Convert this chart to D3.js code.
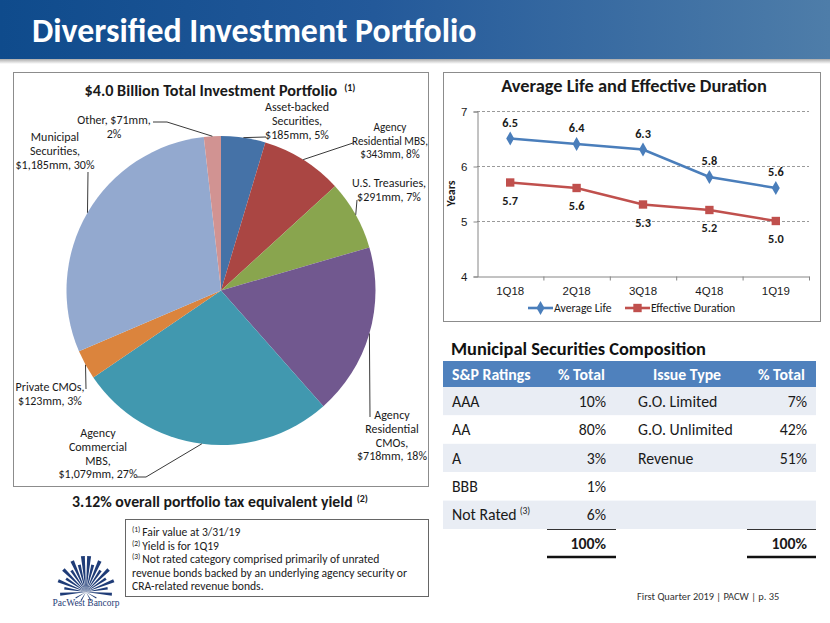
<!DOCTYPE html>
<html><head><meta charset="utf-8">
<script src="https://cdn.jsdelivr.net/npm/d3@7/dist/d3.min.js"></script>
<style>
html,body{margin:0;padding:0;background:#fff;}
svg{display:block;font-family:Carlito,Lato,"Open Sans",sans-serif;}
</style></head>
<body><svg id="c" width="830" height="623"></svg>
<script>
// ---------- DATA ----------
const pieCategories = ["Asset-backed Securities","Agency Residential MBS","U.S. Treasuries","Agency Residential CMOs","Agency Commercial MBS","Private CMOs","Municipal Securities","Other"];
const pieValues = [185, 343, 291, 718, 1079, 123, 1185, 71];
const pieLabelText = [
  ["Asset-backed","Securities,","$185mm, 5%"],
  ["Agency","Residential MBS,","$343mm, 8%"],
  ["U.S. Treasuries,","$291mm, 7%"],
  ["Agency","Residential","CMOs,","$718mm, 18%"],
  ["Agency","Commercial","MBS,","$1,079mm, 27%"],
  ["Private CMOs,","$123mm, 3%"],
  ["Municipal","Securities,","$1,185mm, 30%"],
  ["Other, $71mm,","2%"]
];
const quarters = ["1Q18","2Q18","3Q18","4Q18","1Q19"];
const averageLife = [6.5, 6.4, 6.3, 5.8, 5.6];
const effectiveDuration = [5.7, 5.6, 5.3, 5.2, 5.0];
const yTicks = [4, 5, 6, 7];
const ratings = ["AAA","AA","A","BBB","Not Rated"];
const ratingPct = [10, 80, 3, 1, 6];
const issueTypes = ["G.O. Limited","G.O. Unlimited","Revenue"];
const issuePct = [7, 42, 51];
const footnotes = [["(1)","Fair value at 3/31/19"],["(2)","Yield is for 1Q19"],["(3)","Not rated category comprised primarily of unrated"],["","revenue bonds backed by an underlying agency security or"],["","CRA-related revenue bonds."]];

// ---------- STYLE / LAYOUT ----------
const pieColors = ["#4572A7","#AA4643","#89A54E","#71588F","#4198AF","#DB843D","#93A9CF","#D19392"];
const labelLayout = [
  {x:297, y:107, fs:12,   leader:[[266,137]]},
  {x:390, y:127, fs:11.2, leader:[[353,143]]},
  {x:389, y:183, fs:12,   leader:[[357,200]]},
  {x:392, y:415, fs:12,   leader:[[370,417]]},
  {x:98,  y:433, fs:12,   leader:[[146,477],[137,477]]},
  {x:50,  y:387, fs:12,   leader:[[86,389]]},
  {x:55,  y:137, fs:12,   leader:[[88,172]]},
  {x:114, y:120, fs:12,   leader:[[167,122],[153,122]]}
];
const txt = "#1a1a1a";

const svg = d3.select("#c");
const defs = svg.append("defs");
const hg = defs.append("linearGradient").attr("id","hg").attr("x1","0").attr("x2","1");
hg.append("stop").attr("offset","0").attr("stop-color","#0F4B8C");
hg.append("stop").attr("offset","0.45").attr("stop-color","#23599A");
hg.append("stop").attr("offset","1").attr("stop-color","#4E7DA9");
const sg = defs.append("linearGradient").attr("id","sg").attr("x1","0").attr("x2","0").attr("y1","0").attr("y2","1");
sg.append("stop").attr("offset","0").attr("stop-color","#9a9a9a");
sg.append("stop").attr("offset","1").attr("stop-color","#ffffff");

// header
svg.append("rect").attr("x",0).attr("y",58).attr("width",830).attr("height",6).attr("fill","url(#sg)");
svg.append("rect").attr("x",0).attr("y",0).attr("width",830).attr("height",59).attr("fill","url(#hg)");
svg.append("text").attr("x",32).attr("y",42).attr("fill","#fff").attr("font-weight","bold")
  .attr("font-size",33.8).text("Diversified Investment Portfolio");

// ---------- PIE ----------
svg.append("rect").attr("x",13.5).attr("y",72.5).attr("width",415).attr("height",414)
  .attr("fill","#fff").attr("stroke","#8c8c8c").attr("stroke-width",1);
const pt = svg.append("text").attr("x",220).attr("y",96).attr("text-anchor","middle")
  .attr("font-weight","bold").attr("font-size",16.2).attr("fill",txt);
pt.append("tspan").text("$4.0 Billion Total Investment Portfolio");
pt.append("tspan").attr("dx",7).attr("dy",-5).attr("font-size",10).text("(1)");

const cx = 221, cy = 290.5, R = 154.5;
const pie = d3.pie().sort(null).value(d => d)(pieValues);
const arc = d3.arc().innerRadius(0).outerRadius(R);
const pg = svg.append("g").attr("transform",`translate(${cx},${cy})`);
pg.selectAll("path").data(pie).join("path").attr("d",arc).attr("fill",(d,i)=>pieColors[i]);

pie.forEach((d,i) => {
  const a = (d.startAngle + d.endAngle)/2;
  const ex = cx + R*Math.sin(a), ey = cy - R*Math.cos(a);
  const L = labelLayout[i];
  const pts = [[ex,ey]].concat(L.leader);
  svg.append("path").attr("d", d3.line()(pts)).attr("fill","none").attr("stroke","#3a3a3a").attr("stroke-width",1);
  const t = svg.append("text").attr("text-anchor","middle").attr("font-size",L.fs).attr("fill",txt);
  pieLabelText[i].forEach((s,j) => {
    t.append("tspan").attr("x",L.x).attr("y",L.y + j*13.7).attr("dy","0.35em").text(s);
  });
});

const yt = svg.append("text").attr("x",220).attr("y",507).attr("text-anchor","middle")
  .attr("font-weight","bold").attr("font-size",15.8).attr("fill",txt);
yt.append("tspan").text("3.12% overall portfolio tax equivalent yield");
yt.append("tspan").attr("dx",4).attr("dy",-5).attr("font-size",10).text("(2)");

// footnote box
svg.append("rect").attr("x",125.5).attr("y",519.5).attr("width",303).attr("height",77)
  .attr("fill","#fff").attr("stroke","#666").attr("stroke-width",1);
footnotes.forEach((f,i) => {
  const t = svg.append("text").attr("x",132).attr("y",536 + i*13.6).attr("font-size",11.6).attr("fill",txt);
  if (f[0]) t.append("tspan").attr("font-size",7.5).attr("dy",-4).text(f[0]);
  t.append("tspan").attr("dx", f[0]?2:0).attr("dy", f[0]?4:0).text(f[1]);
});

// logo
const lg = svg.append("g").attr("transform","translate(86,592)");
const rays = [-95,-80,-68,-56,-45,-34,-24,-14,-5,5,14,24,34,45,56,68,80,95,120,-120,150,-150];
const rlen = [26,22,30,24,32,26,34,28,36,36,28,34,26,32,24,30,22,26,12,12,10,10];
rays.forEach((deg,i) => {
  const a = deg*Math.PI/180, l = rlen[i];
  const w = 0.055;
  const p = [[0,0],[l*Math.sin(a-w),-l*Math.cos(a-w)],[l*Math.sin(a+w),-l*Math.cos(a+w)]];
  lg.append("path").attr("d",d3.line()(p)+"Z").attr("fill","#1F3C77");
});
svg.append("text").attr("x",86).attr("y",606).attr("text-anchor","middle").attr("font-size",9.5)
  .attr("font-family","'Liberation Serif',serif").attr("fill","#1F3C77").text("PacWest Bancorp");

// ---------- LINE CHART ----------
svg.append("rect").attr("x",443.5).attr("y",72.5).attr("width",377).attr("height",249)
  .attr("fill","#fff").attr("stroke","#8c8c8c").attr("stroke-width",1);
svg.append("text").attr("x",634).attr("y",92).attr("text-anchor","middle").attr("font-weight","bold")
  .attr("font-size",18.4).attr("fill",txt).text("Average Life and Effective Duration");

const x = d3.scaleBand().domain(quarters).range([477,809]);
const y = d3.scaleLinear().domain([4,7]).range([276,111]);
const cxq = q => x(q) + x.bandwidth()/2;

// gridlines
svg.append("g").selectAll("line").data(yTicks.filter(v=>v>4)).join("line")
  .attr("x1",477).attr("x2",809).attr("y1",d=>y(d)+0.5).attr("y2",d=>y(d)+0.5)
  .attr("stroke","#9a9a9a").attr("stroke-dasharray","3,2").attr("stroke-width",1);

const ya = svg.append("g").attr("transform","translate(477.5,0.5)")
  .call(d3.axisLeft(y).tickValues(yTicks).tickFormat(d3.format("d")).tickSize(4).tickPadding(6));
ya.select(".domain").attr("stroke","#868686");
ya.selectAll(".tick line").attr("stroke","#868686");
ya.selectAll("text").attr("font-size",11.5).attr("fill",txt).attr("font-family",null);

const xa = svg.append("g").attr("transform",`translate(0,${y(4)+0.5})`)
  .call(d3.axisBottom(x).tickSize(0).tickPadding(10).tickSizeOuter(0));
xa.select(".domain").attr("stroke","#868686");
xa.selectAll("text").attr("font-size",11.5).attr("fill",txt).attr("font-family",null);
xa.selectAll(".bt").data(quarters.slice(1).concat(["end"])).join("line")
  .attr("x1",(d,i)=> i<quarters.length-1 ? x(d)+0.5 : 809.5).attr("x2",(d,i)=> i<quarters.length-1 ? x(d)+0.5 : 809.5)
  .attr("y1",0).attr("y2",4).attr("stroke","#868686");

svg.append("text").attr("transform",`translate(455,${(y(4)+y(7))/2}) rotate(-90)`).attr("text-anchor","middle")
  .attr("font-weight","bold").attr("font-size",12).attr("fill",txt).text("Years");

const blue = "#4A7EBB", red = "#C0504D";
const line = d3.line().x((d,i)=>cxq(quarters[i])).y(d=>y(d));
svg.append("path").attr("d",line(averageLife)).attr("fill","none").attr("stroke",blue).attr("stroke-width",2.6);
svg.append("path").attr("d",line(effectiveDuration)).attr("fill","none").attr("stroke",red).attr("stroke-width",2.6);
const diamond = d3.symbol().type(d3.symbolDiamond).size(55);
const square = d3.symbol().type(d3.symbolSquare).size(70);
svg.append("g").selectAll("path").data(averageLife).join("path")
  .attr("transform",(d,i)=>`translate(${cxq(quarters[i])},${y(d)})`).attr("d",diamond()).attr("fill",blue);
svg.append("g").selectAll("path").data(effectiveDuration).join("path")
  .attr("transform",(d,i)=>`translate(${cxq(quarters[i])},${y(d)})`).attr("d",square()).attr("fill",red);
svg.append("g").selectAll("text").data(averageLife).join("text")
  .attr("x",(d,i)=>cxq(quarters[i])).attr("y",d=>y(d)-12).attr("text-anchor","middle")
  .attr("font-weight","bold").attr("font-size",12.3).attr("fill",txt).text(d=>d.toFixed(1));
svg.append("g").selectAll("text").data(effectiveDuration).join("text")
  .attr("x",(d,i)=>cxq(quarters[i])).attr("y",d=>y(d)+22).attr("text-anchor","middle")
  .attr("font-weight","bold").attr("font-size",12.3).attr("fill",txt).text(d=>d.toFixed(1));

// legend
const legend = [{name:"Average Life",c:blue,sym:diamond,x:528},{name:"Effective Duration",c:red,sym:square,x:625}];
legend.forEach(l => {
  svg.append("line").attr("x1",l.x).attr("x2",l.x+25).attr("y1",308).attr("y2",308).attr("stroke",l.c).attr("stroke-width",2.6);
  svg.append("path").attr("transform",`translate(${l.x+12.5},308)`).attr("d",l.sym()).attr("fill",l.c);
  svg.append("text").attr("x",l.x+26).attr("y",312).attr("font-size",11.7).attr("fill",txt).text(l.name);
});

// ---------- TABLE ----------
svg.append("text").attr("x",451).attr("y",355).attr("font-weight","bold").attr("font-size",18.4)
  .attr("fill","#111").text("Municipal Securities Composition");
const tx0 = 443, tx1 = 816;
svg.append("rect").attr("x",tx0).attr("y",361).attr("width",tx1-tx0).attr("height",26).attr("fill","#4F81BD");
const hdr = [["S&P Ratings",452,"start"],["% Total",605,"end"],["Issue Type",653,"start"],["% Total",805,"end"]];
hdr.forEach(h => svg.append("text").attr("x",h[1]).attr("y",380).attr("text-anchor",h[2])
  .attr("font-weight","bold").attr("font-size",15.8).attr("fill","#fff").text(h[0]));
const rowY = d3.scaleBand().domain(d3.range(ratings.length)).range([387,529]);
svg.append("g").selectAll("rect").data(ratings).join("rect")
  .attr("x",tx0).attr("width",tx1-tx0).attr("y",(d,i)=>rowY(i)).attr("height",rowY.bandwidth())
  .attr("fill",(d,i)=> i%2===0 ? "#E9EDF4" : "#FFFFFF");
ratings.forEach((r,i) => {
  const yy = rowY(i) + rowY.bandwidth()/2 + 5.5;
  const t = svg.append("text").attr("x",452).attr("y",yy).attr("font-size",15.8).attr("fill",txt).text(r);
  if (r === "Not Rated") t.append("tspan").attr("dx",3).attr("dy",-6).attr("font-size",9.5).text("(3)");
  svg.append("text").attr("x",606).attr("y",yy).attr("text-anchor","end").attr("font-size",15.8).attr("fill",txt).text(ratingPct[i]+"%");
});
issueTypes.forEach((r,i) => {
  const yy = rowY(i) + rowY.bandwidth()/2 + 5.5;
  svg.append("text").attr("x",638).attr("y",yy).attr("font-size",15.8).attr("fill",txt).text(r);
  svg.append("text").attr("x",807).attr("y",yy).attr("text-anchor","end").attr("font-size",15.8).attr("fill",txt).text(issuePct[i]+"%");
});
const totals = [[d3.sum(ratingPct),547,616,606],[d3.sum(issuePct),747,816,807]];
totals.forEach(t => {
  svg.append("line").attr("x1",t[1]).attr("x2",t[2]).attr("y1",529.5).attr("y2",529.5).attr("stroke","#333").attr("stroke-width",1);
  svg.append("text").attr("x",t[3]).attr("y",548.5).attr("text-anchor","end").attr("font-weight","bold").attr("font-size",15.8).attr("fill",txt).text(t[0]+"%");
  svg.append("line").attr("x1",t[1]).attr("x2",t[2]).attr("y1",557).attr("y2",557).attr("stroke","#111").attr("stroke-width",2.5);
});

// footer
svg.append("text").attr("x",637).attr("y",600).attr("font-size",10.4).attr("fill","#333")
  .text("First Quarter 2019 | PACW | p. 35");
</script></body></html>
